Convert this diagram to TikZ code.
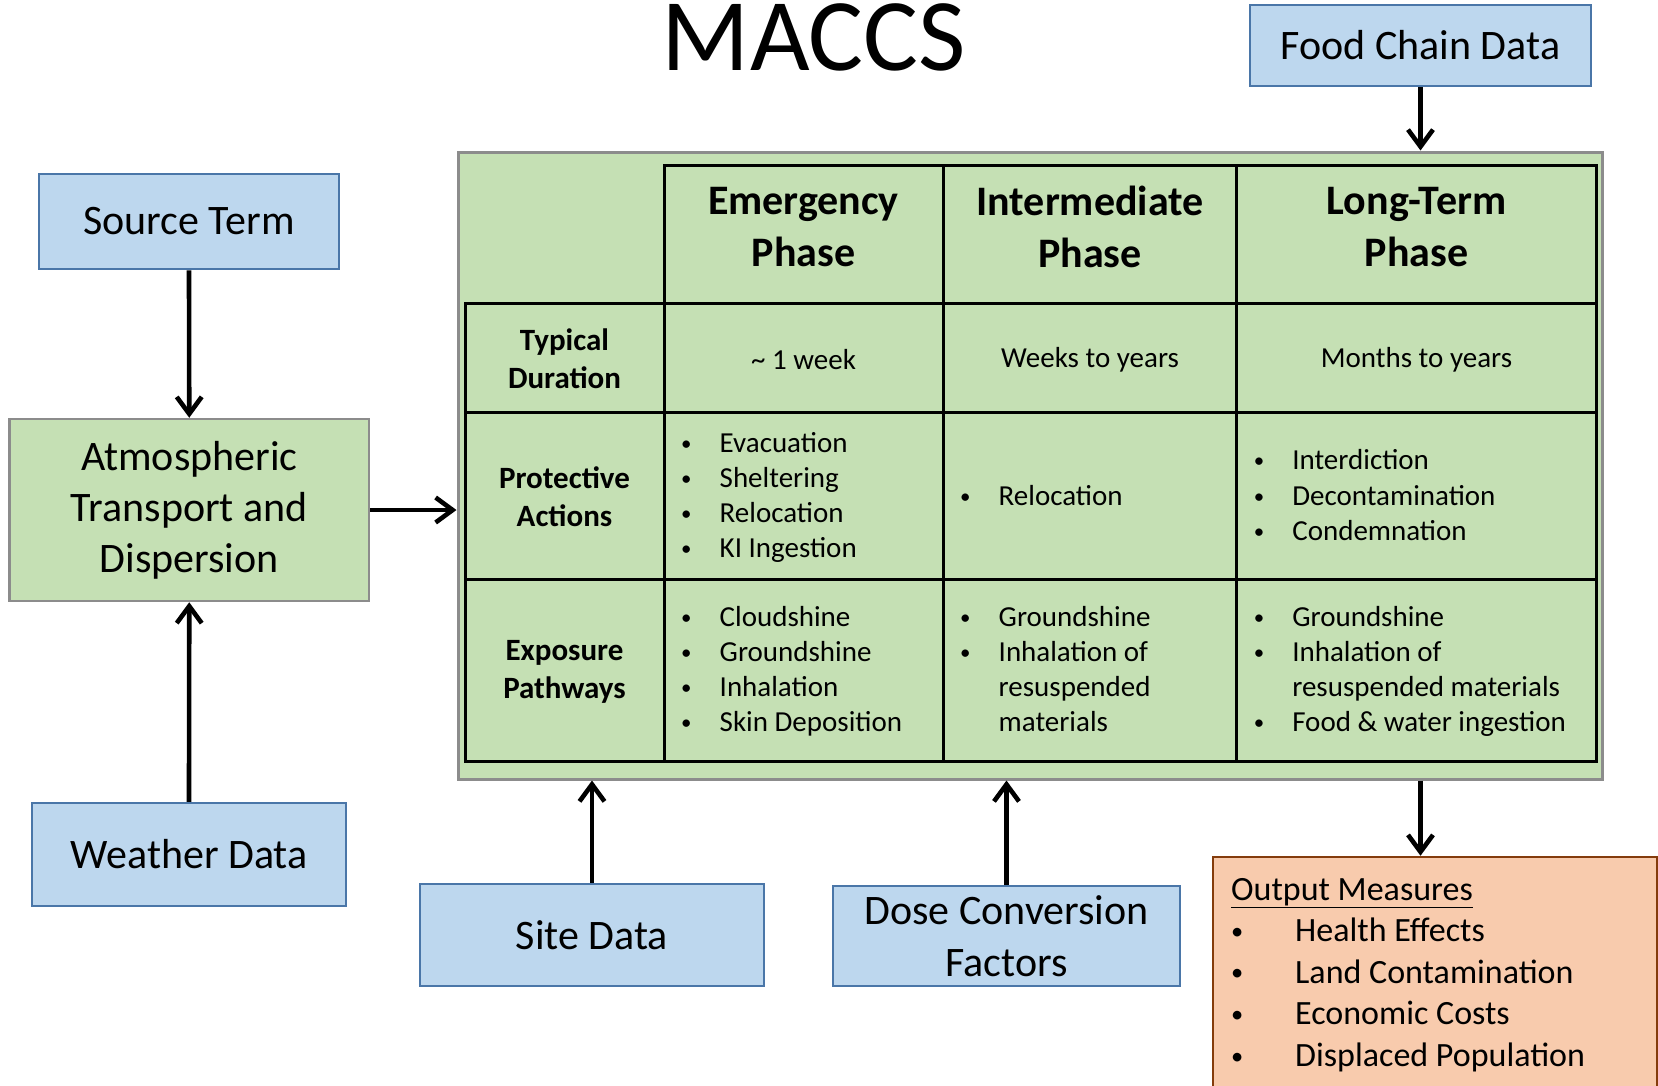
\documentclass[tikz,border=0pt]{standalone}
\usepackage{fontspec}
\usepackage{graphicx}
\setmainfont{Carlito}
\usetikzlibrary{arrows.meta}
\definecolor{bluefill}{HTML}{BDD7EE}
\definecolor{bluebd}{HTML}{4A76A8}
\definecolor{greenfill}{HTML}{C5E0B4}
\definecolor{graybd}{HTML}{8C8C8C}
\definecolor{orangefill}{HTML}{F8CBAD}
\definecolor{orangebd}{HTML}{843C0C}
\newcommand\bul{\raisebox{0.07em}{\scalebox{0.72}{\textbullet}}}
\newcommand\blist[1]{\begin{tabular}{@{}p{38.5pt}@{}l@{}}#1\end{tabular}}
\begin{document}
\begin{tikzpicture}[x=1pt,y=-1pt,
  inbox/.style={draw=bluebd, fill=bluefill, line width=2.5pt, inner sep=0pt, align=center,
    font=\fontsize{42}{51.5}\selectfont},
  grbox/.style={draw=graybd, fill=greenfill, line width=2.5pt, inner sep=0pt, align=center,
    font=\fontsize{42}{51}\selectfont},
  tbl/.style={line width=3pt, black},
  hdr/.style={font=\bfseries\fontsize{42}{51.8}\selectfont, align=center, inner sep=0pt},
  rowhd/.style={font=\bfseries\fontsize{31}{38}\selectfont, align=center, inner sep=0pt},
  cellt/.style={font=\fontsize{29}{35.2}\selectfont, inner sep=0pt},
  lst/.style={font=\fontsize{29}{35.2}\selectfont, inner sep=0pt, anchor=west},
  arr/.style={line width=4.6pt, -{Straight Barb[length=17pt,width=25pt]}}
]
\useasboundingbox (0,0) rectangle (1658,1085);

% title
\node[anchor=base, font=\fontsize{103}{120}\selectfont, inner sep=0pt] (title) at (814,70) {MACCS};

% input / process boxes
\node[inbox, minimum width=300pt, minimum height=95pt] (src) at (189,221.5) {Source Term};
\node[grbox, minimum width=359.5pt, minimum height=182pt] (atm) at (189.25,510) {Atmospheric\\Transport and\\Dispersion};
\node[inbox, minimum width=314pt, minimum height=103pt] (wea) at (189,854.5) {Weather Data};
\node[inbox, minimum width=344pt, minimum height=102pt] (site) at (592,935) {Site Data};
\node[inbox, minimum width=347pt, minimum height=100pt] (dose) at (1006.5,936) {Dose Conversion\\Factors};
\node[inbox, minimum width=341pt, minimum height=81pt] (food) at (1420.5,45.5) {Food Chain Data};

% output box
\node[draw=orangebd, fill=orangefill, line width=2.5pt, inner sep=0pt, minimum width=444pt, minimum height=250pt] (out) at (1435,982) {};
\node[anchor=west, inner sep=0pt, font=\fontsize{34}{41.6}\selectfont] (outtxt) at (1231,975)
  {\begin{tabular}{@{}p{64pt}@{}l@{}}
   \multicolumn{2}{@{}l@{}}{\underline{Output Measures}}\\
   \bul & Health Effects\\
   \bul & Land Contamination\\
   \bul & Economic Costs\\
   \bul & Displaced Population
   \end{tabular}};

% container
\node[draw=graybd, fill=greenfill, line width=3pt, inner sep=0pt, minimum width=1144pt, minimum height=627pt] (cont) at (1030,465.5) {};

% table grid
\draw[tbl] (465,303) rectangle (1596,761);
\draw[tbl] (664,165) rectangle (1596,761);
\draw[tbl] (943,165) -- (943,761);
\draw[tbl] (1236.6,165) -- (1236.6,761);
\draw[tbl] (465,412) -- (1596,412);
\draw[tbl] (465,579) -- (1596,579);

% header
\node[hdr] (h1) at (803.5,227) {Emergency\\Phase};
\node[hdr] (h2) at (1090,227) {Intermediate\\Phase};
\node[hdr] (h3) at (1416.5,227) {Long-Term\\Phase};

% row headers
\node[rowhd] (r1) at (564.5,359) {Typical\\Duration};
\node[rowhd] (r2) at (564.5,497) {Protective\\Actions};
\node[rowhd] (r3) at (564.5,672) {Exposure\\Pathways};

% duration row
\node[cellt] (d1) at (803.5,360) {\textasciitilde\ 1 week};
\node[cellt] (d2) at (1090,360) {Weeks to years};
\node[cellt] (d3) at (1416.5,360) {Months to years};

% protective actions row
\node[lst] (p1) at (681,498) {\blist{\bul & Evacuation\\ \bul & Sheltering\\ \bul & Relocation\\ \bul & KI Ingestion}};
\node[lst] (p2) at (960,498) {\blist{\bul & Relocation}};
\node[lst] (p3) at (1253.6,498) {\blist{\bul & Interdiction\\ \bul & Decontamination\\ \bul & Condemnation}};

% exposure pathways row
\node[lst] (e1) at (681,672) {\blist{\bul & Cloudshine\\ \bul & Groundshine\\ \bul & Inhalation\\ \bul & Skin Deposition}};
\node[lst] (e2) at (960,672) {\blist{\bul & Groundshine\\ \bul & Inhalation of\\ & resuspended\\ & materials}};
\node[lst] (e3) at (1253.6,672) {\blist{\bul & Groundshine\\ \bul & Inhalation of\\ & resuspended materials\\ \bul & Food \& water ingestion}};

% connectors
\draw[arr] (src.south) -- (atm.north);
\draw[arr] (wea.north) -- (atm.south);
\draw[arr] (atm.east) -- (atm.east -| cont.west);
\draw[arr] (food.south) -- (food.south |- cont.north);
\draw[arr] (site.north) -- (site.north |- cont.south);
\draw[arr] (dose.north) -- (dose.north |- cont.south);
\draw[arr] (food.south |- cont.south) -- (food.south |- out.north);
\end{tikzpicture}
\end{document}
